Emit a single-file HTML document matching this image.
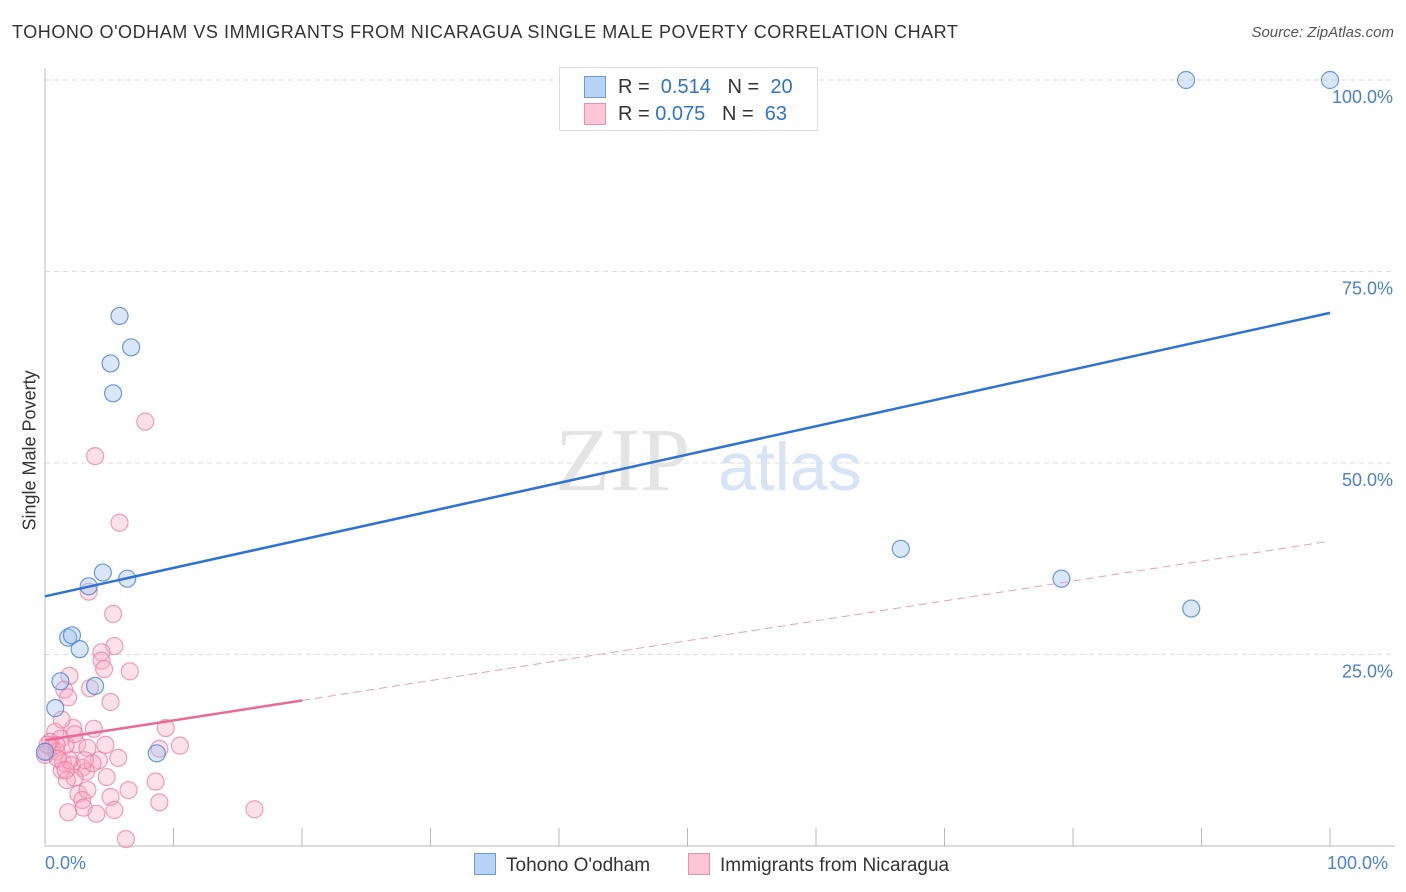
<!DOCTYPE html>
<html><head><meta charset="utf-8"><style>
body{margin:0;background:#fff;font-family:"Liberation Sans",sans-serif;}
#w{position:relative;width:1406px;height:892px;overflow:hidden}
.t{position:absolute;white-space:nowrap}
</style></head><body>
<div id="w">
<div class="t" style="left:12px;top:22px;font-size:18px;color:#333;letter-spacing:0.55px">TOHONO O'ODHAM VS IMMIGRANTS FROM NICARAGUA SINGLE MALE POVERTY CORRELATION CHART</div>
<div class="t" style="right:12px;top:24px;font-size:15px;color:#555;font-style:italic">Source: ZipAtlas.com</div>
<svg id="s" width="1406" height="892" style="position:absolute;left:0;top:0"></svg>
</div>
<script>
const blueX=[5.8,6.7,5.1,5.3,4.5,6.4,3.4,1.8,2.1,2.7,1.2,3.9,0.8,8.7,66.6,79.1,89.2,88.8,100,0];
const blueY=[69.2,65.1,63.0,59.1,35.7,34.9,33.9,27.2,27.5,25.7,21.5,20.9,18.0,12.1,38.8,34.9,31.0,100,100,12.3];
const pinkX=[7.8,3.9,5.8,5.3,3.4,5.4,4.4,4.4,6.6,4.6,1.9,1.5,1.8,3.5,5.1,3.8,9.4,2.2,0.8,0.4,1.2,2.5,1.6,0.5,0.2,0.9,0,3.3,4.7,10.5,8.9,5.7,4.2,1.4,2.1,2.9,3.2,1.3,2.3,4.8,1.7,8.6,6.5,2.6,3.3,5.1,2.9,8.9,3.0,5.4,1.8,4.0,16.3,6.3,0.9,0.2,1.9,1.0,3.7,2.3,1.3,3.1,1.6];
const pinkY=[55.4,50.9,42.2,30.3,33.2,26.1,25.3,24.2,22.8,23.1,22.2,20.4,19.4,20.6,18.8,15.3,15.4,15.4,14.9,13.6,14.0,13.3,13.2,12.8,12.3,12.3,11.9,12.8,13.2,13.1,12.7,11.5,11.2,10.9,10.6,10.2,9.7,9.9,8.9,9.0,8.6,8.4,7.3,6.8,7.3,6.4,6.0,5.7,5.0,4.7,4.4,4.2,4.8,0.9,13.2,13.2,11.2,11.4,10.8,14.6,16.5,11.2,9.9];
const blueFit=[32.6,69.6];
const pinkFit=[13.8,39.8];
const yTicks=[25,50,75,100];
const yTickLabels=["25.0%","50.0%","75.0%","100.0%"];
const NS="http://www.w3.org/2000/svg";
const s=document.getElementById('s');
const X=v=>45+v*12.85, Y=v=>846-v*7.66;
function el(t,a){const e=document.createElementNS(NS,t);for(const k in a)e.setAttribute(k,a[k]);s.appendChild(e);return e;}
yTicks.forEach((v,i)=>{
 const g=el('line',{x1:45,x2:1395,y1:Y(v),y2:Y(v),stroke:'#ddd','stroke-dasharray':'5,4'});
 
 
 const t=el('text',{x:1393,y:Y(v)+23,'text-anchor':'end','font-size':18,fill:'#4a7fd4','font-family':'Liberation Sans'});
 t.textContent=yTickLabels[i];
 
 
});
let ax=el('line',{x1:45,x2:45,y1:68,y2:846,stroke:'#bbb'});


ax=el('line',{x1:45,x2:1395,y1:846,y2:846,stroke:'#bbb'});


for(let i=0;i<=10;i++){const tk=el('line',{x1:X(i*10),x2:X(i*10),y1:828,y2:846,stroke:'#bbb'});
 
 }
const wm=el('text',{x:555,y:490,'font-size':90,fill:'#e4e4e4','font-family':'Liberation Serif'});wm.textContent='ZIP';


const wm2=el('text',{x:718,y:490,'font-size':68,fill:'#d6e4f5','font-family':'Liberation Sans'});wm2.textContent='atlas';


pinkX.forEach((x,i)=>{const c=el('circle',{cx:X(x),cy:Y(pinkY[i]),r:8.5,fill:'rgba(248,170,195,0.35)',stroke:'rgba(235,120,160,0.7)','stroke-width':1.2});
 
 });
blueX.forEach((x,i)=>{const c=el('circle',{cx:X(x),cy:Y(blueY[i]),r:8.5,fill:'rgba(160,195,240,0.4)',stroke:'rgba(70,130,215,0.8)','stroke-width':1.2});
 
 });
let l=el('line',{x1:X(0),y1:Y(blueFit[0]),x2:X(100),y2:Y(blueFit[1]),stroke:'#2f72d6','stroke-width':2.5});


const pAt=x=>pinkFit[0]+(pinkFit[1]-pinkFit[0])*x/100;
l=el('line',{x1:X(0),y1:Y(pinkFit[0]),x2:X(20),y2:Y(pAt(20)),stroke:'#e86a96','stroke-width':2.5});


l=el('line',{x1:X(20),y1:Y(pAt(20)),x2:X(100),y2:Y(pinkFit[1]),stroke:'#e8a0b8','stroke-width':1,'stroke-dasharray':'8,5'});


</script>
<div class="t" style="left:-45px;top:445px;font-size:18px;color:#333;transform:rotate(-90deg);width:150px;text-align:center">Single Male Poverty</div>
<div class="t" style="left:45px;top:853px;font-size:18px;color:#4a7fd4">0.0%</div>
<div class="t" style="left:1327px;top:853px;font-size:18px;color:#4a7fd4">100.0%</div>
<div style="position:absolute;left:559px;top:67px;width:257px;height:62px;border:1px solid #ddd;background:#fff;font-size:20px;color:#333">
 <div class="t" style="left:26px;top:8px"><span style="display:inline-block;width:20px;height:20px;background:#b9d3f6;border:1px solid #6a9be0;position:absolute;left:-2px;top:0"></span><span style="margin-left:32px">R = &nbsp;<span style="color:#2f72d6">0.514</span> &nbsp;&nbsp;N = &nbsp;<span style="color:#2f72d6">20</span></span></div>
 <div class="t" style="left:26px;top:35px"><span style="display:inline-block;width:20px;height:20px;background:#fcc6d6;border:1px solid #ec90b0;position:absolute;left:-2px;top:0"></span><span style="margin-left:32px">R = <span style="color:#2f72d6">0.075</span> &nbsp;&nbsp;N = &nbsp;<span style="color:#2f72d6">63</span></span></div>
</div>
<div class="t" style="left:474px;top:853px;font-size:19px;color:#333"><span style="display:inline-block;width:20px;height:20px;background:#b9d3f6;border:1px solid #6a9be0;vertical-align:-4px;margin-right:10px"></span>Tohono O'odham</div>
<div class="t" style="left:688px;top:853px;font-size:19px;color:#333"><span style="display:inline-block;width:20px;height:20px;background:#fcc6d6;border:1px solid #ec90b0;vertical-align:-4px;margin-right:10px"></span>Immigrants from Nicaragua</div>
</body></html>
